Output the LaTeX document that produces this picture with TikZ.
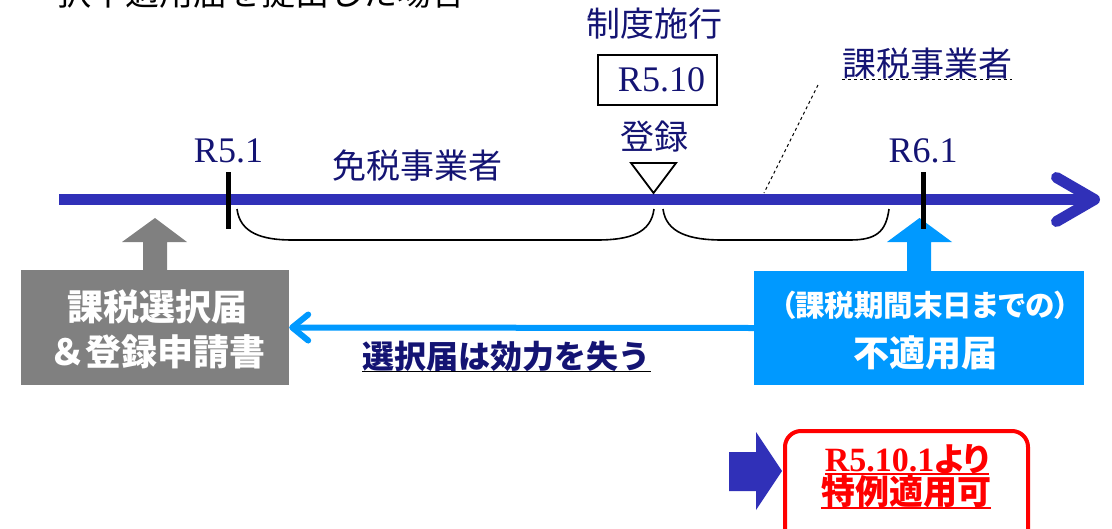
\documentclass[tikz,border=0pt]{standalone}
\usepackage{fontspec}
\newfontfamily\jp{Noto Sans CJK JP}
\newfontfamily\jpp{Noto Sans CJK JP}[RawFeature=+palt]
\newfontfamily\dateserif{Liberation Serif}
\usetikzlibrary{arrows.meta,calc}

\definecolor{navy}{RGB}{20,20,115}
\definecolor{axisblue}{RGB}{48,48,184}
\definecolor{skyblue}{RGB}{0,153,255}
\definecolor{boxgray}{RGB}{128,128,128}
\definecolor{alertred}{RGB}{255,0,0}

\tikzset{
  jlabel/.style={inner sep=0pt, text=navy, font=\jp\fontsize{34}{40}\selectfont},
  rlabel/.style={inner sep=0pt, text=navy, font=\dateserif\fontsize{36}{40}\selectfont},
  tickmark/.style={line width=5pt, black},
  bracket/.style={line width=1.6pt, black},
  whitetext/.style={inner sep=0pt, text=white, align=center},
}

\begin{document}
\begin{tikzpicture}[x=1pt, y=-1pt, >=Latex]
  \useasboundingbox (0,0) rectangle (1112,528);

  % heading, cut at the top edge
  \node[inner sep=0pt, font=\jp\fontsize{34}{40}\selectfont] (head) at (261.5,-7)
    {択不適用届を提出した場合};

  % time axis
  \coordinate (axisL) at (59,199.5);
  \coordinate (axisR) at (1100,199.5);
  \draw[axisblue, line width=11pt, -{Straight Barb[length=38pt,width=44pt,round]}]
    (axisL) -- (axisR);

  % dates
  \node[rlabel] (r51) at (228.5,150.5) {R5.1};
  \node[rlabel] (r61) at (923,150.5) {R6.1};
  \draw[tickmark] (228.5,172) -- (228.5,229);

  \node[jlabel] (start) at (654.5,23.5) {制度施行};
  \node[draw, line width=1.5pt, inner sep=0pt, minimum width=119pt, minimum height=50pt,
        text=navy, font=\dateserif\fontsize{36}{40}\selectfont] (r510) at (657.5,80)
    {\hspace{8pt}R5.10};
  \node[jlabel] (reg) at (654,136.5) {登録};
  \draw[line width=1.8pt, fill=white] (631,163) -- (676,163) -- (653.5,193) -- cycle;

  % periods
  \node[jlabel] (exempt) at (417.5,165.5) {免税事業者};
  \draw[bracket] (237,209) .. controls (240,233) and (262,240) .. (292,240)
    -- (597,240) .. controls (630,240) and (651,233) .. (654,209);
  \draw[bracket] (663,209) .. controls (666,233) and (690,240) .. (722,240)
    -- (850,240) .. controls (876,240) and (886,232) .. (889,209);

  \node[jlabel] (taxed) at (927,64) {課税事業者};
  \draw[dashed, line width=1pt] (taxed.south west) -- (taxed.south east);
  \coordinate (lead) at (818,85);
  \draw[dashed, line width=1pt] (lead) -- (764,193);

  % election form
  \fill[boxgray] (143,271) -- (143,242) -- (122,242) -- (155,218) -- (187,242)
    -- (167,242) -- (167,271) -- cycle;
  \node[fill=boxgray, minimum width=268pt, minimum height=115pt, inner sep=0pt] (elect)
    at (155,327.5) {};
  \node[whitetext, font=\jp\bfseries\fontsize{36}{45}\selectfont] at (157,329.5)
    {課税選択届\\＆登録申請書};

  % cancellation form
  \fill[skyblue] (907,272) -- (907,242) -- (887,242) -- (919.5,218) -- (952,242)
    -- (931,242) -- (931,272) -- cycle;
  \draw[tickmark] (923,172) -- (923,229);
  \node[fill=skyblue, minimum width=330pt, minimum height=114pt, inner sep=0pt] (cancel)
    at (919,328) {};
  \node[whitetext, font=\jpp\bfseries\fontsize{29.5}{34}\selectfont] at (925,305)
    {（課税期間末日までの）};
  \node[whitetext, font=\jp\bfseries\fontsize{36}{40}\selectfont] at (925,353)
    {不適用届};

  \draw[skyblue, line width=6pt, -{Straight Barb[length=16pt,width=26pt,round]}]
    (cancel.west) -- (elect.east);
  \node[inner sep=0pt, text=navy, font=\jp\bfseries\fontsize{32}{36}\selectfont] (lost)
    at (506.5,356) {選択届は効力を失う};
  \draw[line width=1.3pt] (lost.south west) -- (lost.south east);

  % result
  \fill[axisblue] (729,452) -- (756,452) -- (756,432) -- (782,471) -- (756,510)
    -- (756,491) -- (729,491) -- cycle;
  \draw[alertred, line width=4pt, rounded corners=16pt] (785,431) rectangle (1028,570);
  \node[inner sep=0pt, text=alertred, font=\dateserif\bfseries\fontsize{34}{36}\selectfont] (from)
    at (907,459) {R5.10.1{\jpp\bfseries\fontsize{33}{36}\selectfont より}};
  \draw[alertred, line width=2pt] (from.south west) -- (from.south east);
  \node[inner sep=0pt, text=alertred, font=\jp\bfseries\fontsize{34}{36}\selectfont] (allowed)
    at (906,492) {特例適用可};
  \draw[alertred, line width=2pt] (allowed.south west) -- (allowed.south east);
\end{tikzpicture}
\end{document}
